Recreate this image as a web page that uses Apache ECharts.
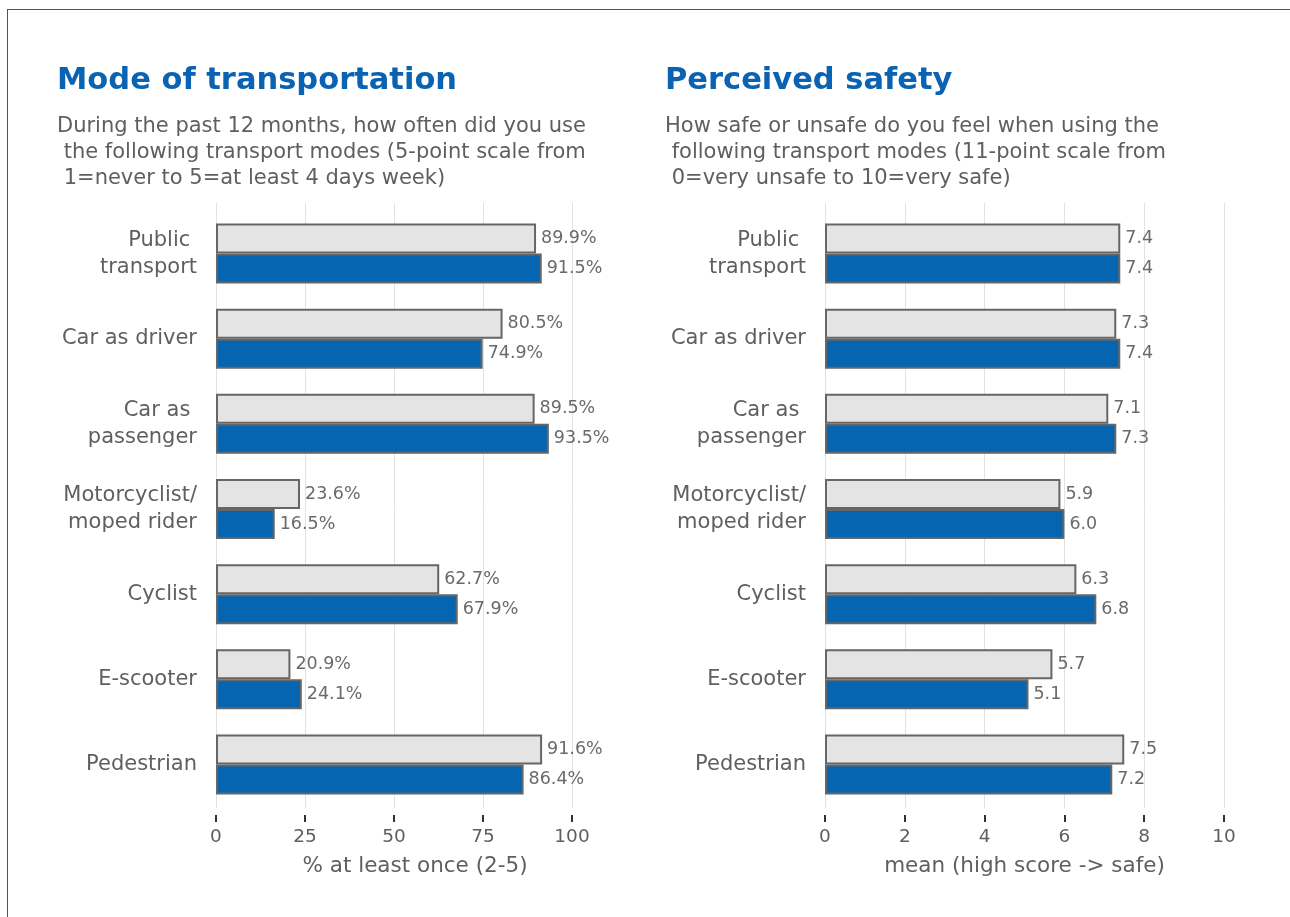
<!DOCTYPE html>
<html>
<head>
<meta charset="utf-8">
<title>Transport modes</title>
<script src="https://cdn.jsdelivr.net/npm/echarts@6/dist/echarts.min.js"></script>
<style>
    html, body { margin: 0; padding: 0; background: #fff; }
    #wrap { position: relative; width: 1290px; height: 917px; overflow: hidden; }
    #main { position: absolute; left: 0; top: 0; width: 1290px; height: 917px; }
    #frame { position: absolute; left: 7px; top: 9px; right: 0; bottom: 0;
             border-left: 1px solid #1a61a8; border-top: 1px solid #1a61a8; pointer-events: none; }
</style>
</head>
<body>
<div id="wrap">
    <div id="main"></div>
    <div id="frame"></div>
</div>
<script>
    // 类别
    var categories = ['Public \ntransport', 'Car as driver', 'Car as \npassenger',
        'Motorcyclist/\nmoped rider', 'Cyclist', 'E-scooter', 'Pedestrian'];
    // 左图: % at least once
    var modeGrey = [89.9, 80.5, 89.5, 23.6, 62.7, 20.9, 91.6];
    var modeBlue = [91.5, 74.9, 93.5, 16.5, 67.9, 24.1, 86.4];
    // 右图: mean safety
    var safeGrey = [7.4, 7.3, 7.1, 5.9, 6.3, 5.7, 7.5];
    var safeBlue = [7.4, 7.4, 7.3, 6.0, 6.8, 5.1, 7.2];
    // 刻度
    var modeTicks = [0, 25, 50, 75, 100];
    var safeTicks = [0, 2, 4, 6, 8, 10];

    var FONT = 'DejaVu Sans';
    var GREY_TXT = '#5f5f5f';
    var BLUE = '#0565b1';

    var chart = echarts.init(document.getElementById('main'), null, {renderer: 'canvas'});

    function titleBlock(left, head, sub) {
        return [{
            left: left, top: 66, padding: 0,
            text: head,
            textStyle: {fontFamily: FONT, fontSize: 30.5, fontWeight: 'bold', color: '#0a63b2'}
        }, {
            left: left, top: 114, padding: 0,
            text: sub,
            textStyle: {fontFamily: FONT, fontSize: 21, fontWeight: 'normal', color: GREY_TXT, lineHeight: 26}
        }];
    }

    function barSeries(idx, data, color, fmt) {
        return {
            type: 'bar',
            xAxisIndex: idx, yAxisIndex: idx,
            data: data,
            barWidth: 30,
            barGap: '0%',
            itemStyle: {color: color, borderColor: '#666', borderWidth: 2},
            label: {
                show: true, position: 'right', distance: 5,
                fontFamily: FONT, fontSize: 17.5, color: '#6a6a6a',
                formatter: function (p) { return fmt(p.value); }
            },
            silent: true, animation: false
        };
    }

    // 只画网格线与刻度的坐标轴
    function scaleAxis(gridIdx, ticks, name, shift) {
        return {
            type: 'value', gridIndex: gridIdx,
            min: ticks[0], max: ticks[ticks.length - 1],
            interval: ticks[1] - ticks[0],
            offset: 7,
            axisLine: {show: false},
            axisTick: {show: true, length: 7, lineStyle: {color: '#333', width: 2}},
            axisLabel: {fontFamily: FONT, fontSize: 18.5, color: GREY_TXT, margin: 13},
            splitLine: {show: true, lineStyle: {color: '#e2e2e2', width: 1}},
            name: name, nameLocation: 'middle', nameGap: 40,
            nameTextStyle: {fontFamily: FONT, fontSize: 21.5, color: GREY_TXT, padding: [0, 0, 0, shift]}
        };
    }

    function barAxis(gridIdx, ticks) {
        return {
            type: 'value', gridIndex: gridIdx,
            min: ticks[0], max: ticks[ticks.length - 1],
            show: false, splitLine: {show: false}
        };
    }

    function catAxis(gridIdx) {
        return {
            type: 'category', gridIndex: gridIdx, inverse: true,
            data: categories,
            axisLine: {show: false}, axisTick: {show: false},
            axisLabel: {fontFamily: FONT, fontSize: 21, color: GREY_TXT, lineHeight: 27, margin: 19, align: 'right'}
        };
    }

    var option = {
        backgroundColor: '#fff',
        title: titleBlock(57, 'Mode of transportation',
            'During the past 12 months, how often did you use\n the following transport modes (5-point scale from\n 1=never to 5=at least 4 days week)')
            .concat(titleBlock(665, 'Perceived safety',
            'How safe or unsafe do you feel when using the\n following transport modes (11-point scale from\n 0=very unsafe to 10=very safe)')),
        grid: [
            // 网格线
            {left: 216, width: 356, top: 203, height: 605},
            {left: 825, width: 399, top: 203, height: 605},
            // 条形
            {left: 216, width: 356, top: 211, height: 596},
            {left: 825, width: 399, top: 211, height: 596}
        ],
        xAxis: [
            scaleAxis(0, modeTicks, '% at least once (2-5)', 42),
            scaleAxis(1, safeTicks, 'mean (high score -> safe)', 0),
            barAxis(2, modeTicks),
            barAxis(3, safeTicks)
        ],
        yAxis: [
            {type: 'category', gridIndex: 0, data: categories, show: false},
            {type: 'category', gridIndex: 1, data: categories, show: false},
            catAxis(2),
            catAxis(3)
        ],
        series: [
            barSeries(2, modeGrey, '#e4e4e4', function (v) { return v.toFixed(1) + '%'; }),
            barSeries(2, modeBlue, BLUE, function (v) { return v.toFixed(1) + '%'; }),
            barSeries(3, safeGrey, '#e4e4e4', function (v) { return v.toFixed(1); }),
            barSeries(3, safeBlue, BLUE, function (v) { return v.toFixed(1); })
        ]
    };
    chart.setOption(option);
</script>
</body>
</html>
